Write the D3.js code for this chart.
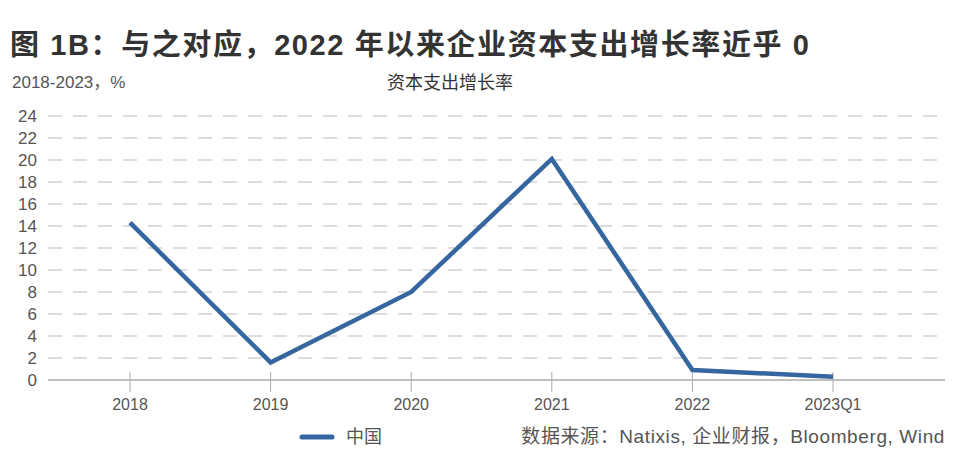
<!DOCTYPE html>
<html><head><meta charset="utf-8">
<script src="https://cdn.jsdelivr.net/npm/d3@7"></script>
<style>body{margin:0;background:#fff;font-family:"Liberation Sans","Noto Sans CJK SC",sans-serif;}</style>
</head><body><svg id="svg" width="960" height="452"></svg>
<script>
const categories = ['2018', '2019', '2020', '2021', '2022', '2023Q1'];
const china = [14.3, 1.6, 8.0, 20.1, 0.9, 0.3];
const yTicks = [0, 2, 4, 6, 8, 10, 12, 14, 16, 18, 20, 22, 24];
const lineColor = '#3566a0';
const textColor = '#555';

const svg = d3.select('#svg');
const xScale = d3.scaleLinear().domain([0, categories.length - 1]).range([130, 833]);
const yScale = d3.scaleLinear().domain([0, 24]).range([380, 116]);
const left = 48, right = 945;

svg.append('text').attr('x', 10).attr('y', 55)
  .attr('font-size', 29).attr('font-weight', 'bold').attr('fill', '#333')
  .attr('letter-spacing', 1.6)
  .text('图 1B：与之对应，2022 年以来企业资本支出增长率近乎 0');
svg.append('text').attr('x', 12).attr('y', 88).attr('font-size', 17).attr('fill', textColor)
  .text('2018-2023，%');
svg.append('text').attr('x', 450).attr('y', 89).attr('font-size', 18).attr('fill', '#333')
  .attr('text-anchor', 'middle').text('资本支出增长率');

// grid
svg.selectAll('.grid').data(yTicks.filter(d => d > 0)).enter().append('line')
  .attr('x1', left).attr('x2', right)
  .attr('y1', d => yScale(d)).attr('y2', d => yScale(d))
  .attr('stroke', '#bbb').attr('stroke-width', 1.2).attr('stroke-dasharray', '14,11');

svg.selectAll('.ylab').data(yTicks).enter().append('text')
  .attr('x', 37).attr('y', d => yScale(d) + 6).attr('text-anchor', 'end')
  .attr('font-size', 17).attr('fill', textColor).text(d => d);

// x axis
svg.append('line').attr('x1', left).attr('x2', right).attr('y1', 380).attr('y2', 380)
  .attr('stroke', '#aaa').attr('stroke-width', 1.5);
svg.selectAll('.xt').data(categories).enter().append('line')
  .attr('x1', (d, i) => xScale(i)).attr('x2', (d, i) => xScale(i))
  .attr('y1', 372).attr('y2', 392).attr('stroke', '#aaa');
svg.selectAll('.xlab').data(categories).enter().append('text')
  .attr('x', (d, i) => xScale(i)).attr('y', 410).attr('text-anchor', 'middle')
  .attr('font-size', 16).attr('fill', textColor).text(d => d);

const line = d3.line().x((d, i) => xScale(i)).y(d => yScale(d));
svg.append('path').attr('d', line(china)).attr('fill', 'none')
  .attr('stroke', lineColor).attr('stroke-width', 4.5).attr('stroke-linejoin', 'miter');

// legend
svg.append('line').attr('x1', 302).attr('x2', 332).attr('y1', 437).attr('y2', 437)
  .attr('stroke', lineColor).attr('stroke-width', 5).attr('stroke-linecap', 'round');
svg.append('text').attr('x', 346).attr('y', 443).attr('font-size', 18).attr('fill', textColor).text('中国');
svg.append('text').attr('x', 945).attr('y', 443).attr('text-anchor', 'end')
  .attr('font-size', 19).attr('fill', textColor).attr('letter-spacing', 0.6)
  .text('数据来源：Natixis, 企业财报，Bloomberg, Wind');
</script></body></html>
